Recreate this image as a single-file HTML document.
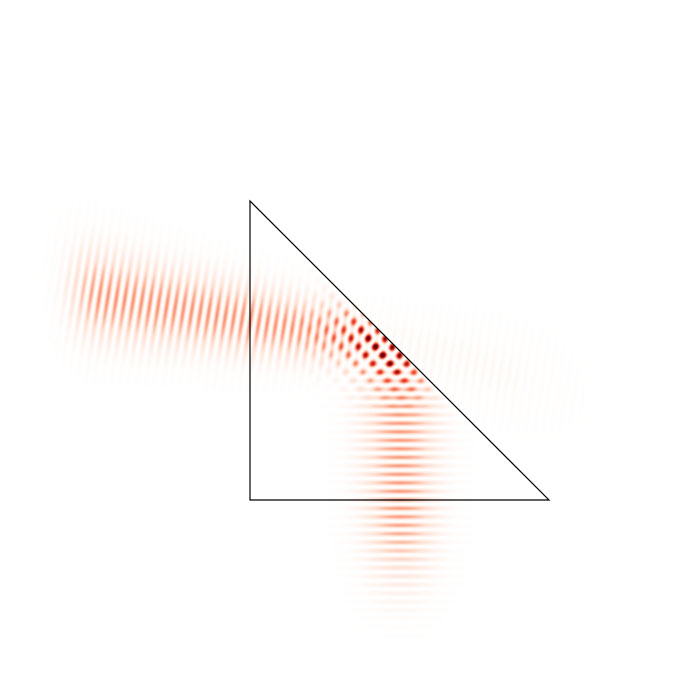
<!DOCTYPE html>
<html><head><meta charset="utf-8"><style>
html,body{margin:0;padding:0;background:#fff;width:700px;height:700px;overflow:hidden}
#wrap{position:relative;width:700px;height:700px}
canvas,svg{position:absolute;left:0;top:0}
</style></head><body>
<div id="wrap">
<canvas id="field" width="700" height="700"></canvas>
<svg width="700" height="700">
<polygon points="250,201 250,500 549,500" fill="none" stroke="#000" stroke-width="1.2"/>
</svg>
</div>
<script>
// beam parameters: [incoming, reflected, transmitted]
const beamNames = ["incoming","reflected","transmitted"];
const beamAmps = [0.62, 0.6, 0.2];
const beamWidths = [46, 52, 40];
const wavelength = 17;
const incomingAngle = 0.16;
const colorStops = [[255,255,255],[254,224,210],[252,146,114],[239,59,44],[165,15,21],[103,0,13]];

const cv = document.getElementById('field');
const ctx = cv.getContext('2d');
const img = ctx.createImageData(700,700);
const k = 2*Math.PI/wavelength;
const ca = Math.cos(incomingAngle), sa = Math.sin(incomingAngle);
function ss(a,b,x){let t=Math.min(1,Math.max(0,(x-a)/(b-a)));return t*t*(3-2*t);}
function cmap(v){
  v=Math.max(0,Math.min(1,v));const n=colorStops.length-1;const f=v*n;const i=Math.min(n-1,Math.floor(f));const t=f-i;
  const a=colorStops[i],b=colorStops[i+1];
  return [a[0]+(b[0]-a[0])*t,a[1]+(b[1]-a[1])*t,a[2]+(b[2]-a[2])*t];
}
for(let y=0;y<700;y++){
  for(let x=0;x<700;x++){
    const s=(x-250)*ca+(y-320)*sa;
    const p=-(x-250)*sa+(y-320)*ca;
    const below = y > x-49;
    let re=0;
    const w1=beamWidths[0]-0.08*s;
    const g1=Math.exp(-p*p/(w1*w1))*ss(30,100,x);
    if(below){
      re+=beamAmps[0]*g1*Math.cos(k*s);
      const dx=x-400;
      const w2=beamWidths[1]-0.03*(y-350);
      let env=ss(-20,20,y-(x-49))*(1-ss(510,670,y));
      re+=beamAmps[1]*Math.exp(-dx*dx/(w2*w2))*env*Math.cos(k*y+0.8);
    } else {
      const pt=p-0.09*Math.max(0,s-145);
      const wt=beamWidths[2]+0.1*Math.max(0,s-145);
      re+=beamAmps[2]*Math.exp(-pt*pt/(wt*wt))*(1-ss(480,640,x))*Math.cos(k*s);
    }
    const I=re*re*1.05;
    const c=cmap(I);
    const o=(y*700+x)*4;
    img.data[o]=c[0];img.data[o+1]=c[1];img.data[o+2]=c[2];img.data[o+3]=255;
  }
}
ctx.putImageData(img,0,0);
</script>
</body></html>
